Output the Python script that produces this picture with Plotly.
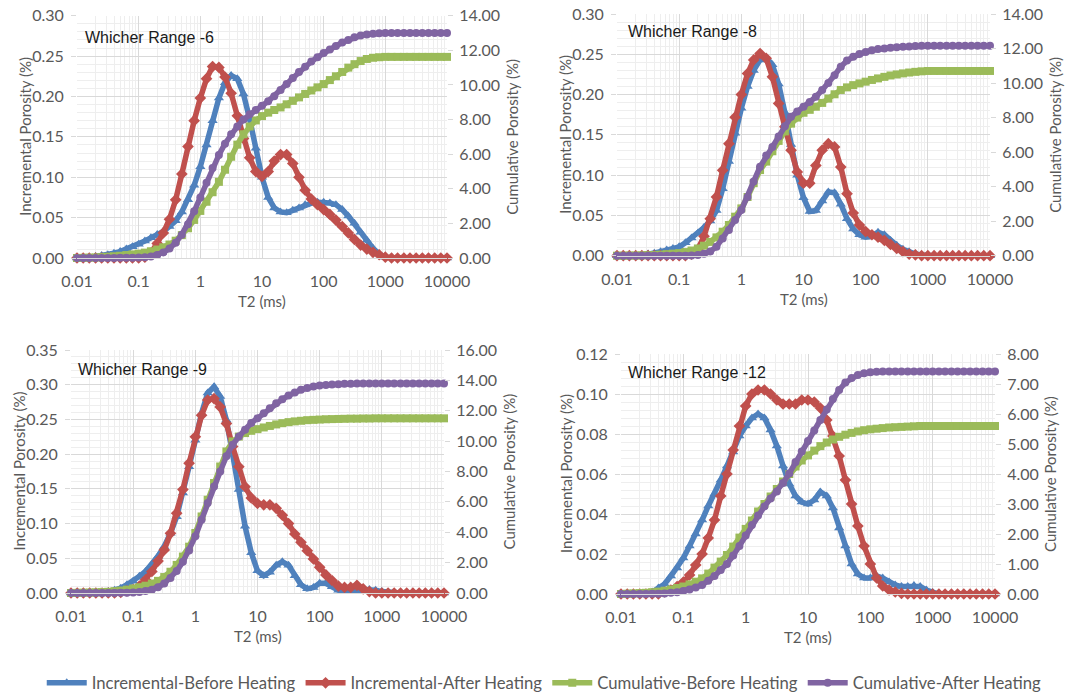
import plotly.graph_objects as go

# T2 relaxation-time bins (ms), ten per decade
T2_MS = [
    0.01, 0.0126, 0.0158, 0.02, 0.0251, 0.0316, 0.0398, 0.0501, 0.0631, 0.0794,
    0.1, 0.126, 0.158, 0.2, 0.251, 0.316, 0.398, 0.501, 0.631, 0.794,
    1, 1.26, 1.58, 2.0, 2.51, 3.16, 3.98, 5.01, 6.31, 7.94,
    10, 12.6, 15.8, 20.0, 25.1, 31.6, 39.8, 50.1, 63.1, 79.4,
    100, 126, 158, 200, 251, 316, 398, 501, 631, 794,
    1000, 1260, 1580, 2000, 2510, 3160, 3980, 5010, 6310, 7940, 10000,
]

# ---- Whicher Range -6 ----
WR6_INC_BEFORE = [
    0, 0, 0.001, 0.002, 0.003, 0.004, 0.006, 0.008, 0.011, 0.014,
    0.017, 0.021, 0.025, 0.029, 0.033, 0.039, 0.046, 0.057, 0.072, 0.090,
    0.113, 0.140, 0.170, 0.198, 0.217, 0.226, 0.222, 0.203, 0.172, 0.136,
    0.100, 0.075, 0.062, 0.057, 0.056, 0.059, 0.062, 0.066, 0.068, 0.069,
    0.069, 0.068, 0.066, 0.060, 0.052, 0.043, 0.032, 0.022, 0.012, 0.005,
    0.001, 0, 0, 0, 0, 0, 0, 0, 0, 0, 0,
]
WR6_INC_AFTER = [
    0, 0, 0, 0, 0, 0, 0, 0, 0, 0,
    0, 0.001, 0.006, 0.018, 0.031, 0.048, 0.072, 0.104, 0.138, 0.170,
    0.198, 0.222, 0.237, 0.236, 0.224, 0.204, 0.176, 0.148, 0.124, 0.107,
    0.101, 0.107, 0.120, 0.128, 0.128, 0.117, 0.100, 0.084, 0.073, 0.066,
    0.060, 0.054, 0.047, 0.039, 0.031, 0.023, 0.016, 0.011, 0.007, 0.004,
    0.001, 0, 0, 0, 0, 0, 0, 0, 0, 0, 0,
]
WR6_CUM_BEFORE = [
    0, 0.01, 0.02, 0.03, 0.05, 0.07, 0.10, 0.13, 0.17, 0.21,
    0.25, 0.31, 0.39, 0.49, 0.62, 0.78, 1.00, 1.32, 1.72, 2.20,
    2.72, 3.25, 3.80, 4.40, 5.10, 5.85, 6.55, 7.15, 7.60, 7.95,
    8.20, 8.40, 8.55, 8.70, 8.88, 9.08, 9.28, 9.48, 9.68, 9.86,
    10.05, 10.28, 10.50, 10.75, 11.00, 11.20, 11.38, 11.50, 11.57, 11.60,
    11.62, 11.62, 11.62, 11.62, 11.62, 11.62, 11.62, 11.62, 11.62, 11.62, 11.62,
]
WR6_CUM_AFTER = [
    0, 0, 0, 0, 0, 0, 0, 0.01, 0.01, 0.02,
    0.03, 0.05, 0.09, 0.17, 0.32, 0.55, 0.88, 1.35, 1.95, 2.70,
    3.50, 4.35, 5.20, 5.95, 6.60, 7.15, 7.60, 8.00, 8.30, 8.55,
    8.80, 9.05, 9.35, 9.70, 10.05, 10.40, 10.75, 11.05, 11.35, 11.60,
    11.85, 12.05, 12.25, 12.45, 12.60, 12.75, 12.85, 12.92, 12.96, 12.98,
    13.00, 13.00, 13.00, 13.00, 13.00, 13.00, 13.00, 13.00, 13.00, 13.00, 13.00,
]

# ---- Whicher Range -8 ----
WR8_INC_BEFORE = [
    0, 0, 0, 0, 0.001, 0.002, 0.003, 0.005, 0.007, 0.009,
    0.011, 0.016, 0.022, 0.028, 0.035, 0.043, 0.056, 0.083, 0.117, 0.152,
    0.183, 0.210, 0.230, 0.243, 0.246, 0.237, 0.213, 0.178, 0.138, 0.100,
    0.072, 0.055, 0.056, 0.068, 0.079, 0.078, 0.064, 0.046, 0.033, 0.026,
    0.023, 0.025, 0.029, 0.026, 0.019, 0.013, 0.008, 0.005, 0.002, 0.001,
    0, 0, 0, 0, 0, 0, 0, 0, 0, 0, 0,
]
WR8_INC_AFTER = [
    0, 0, 0, 0, 0, 0, 0, 0, 0, 0,
    0, 0, 0.002, 0.008, 0.024, 0.046, 0.073, 0.106, 0.139, 0.172,
    0.200, 0.226, 0.243, 0.251, 0.245, 0.222, 0.189, 0.160, 0.131, 0.104,
    0.090, 0.090, 0.112, 0.131, 0.139, 0.135, 0.110, 0.077, 0.053, 0.038,
    0.030, 0.026, 0.023, 0.019, 0.014, 0.009, 0.005, 0.002, 0.001, 0,
    0, 0, 0, 0, 0, 0, 0, 0, 0, 0, 0,
]
WR8_CUM_BEFORE = [
    0, 0, 0.01, 0.01, 0.02, 0.03, 0.04, 0.06, 0.09, 0.12,
    0.15, 0.21, 0.30, 0.42, 0.58, 0.80, 1.06, 1.39, 1.78, 2.26,
    2.74, 3.40, 4.20, 4.96, 5.45, 6.05, 6.65, 7.20, 7.65, 8.00,
    8.28, 8.45, 8.63, 8.85, 9.10, 9.35, 9.60, 9.75, 9.88, 9.98,
    10.08, 10.18, 10.27, 10.36, 10.44, 10.50, 10.56, 10.61, 10.65, 10.68,
    10.70, 10.70, 10.70, 10.70, 10.70, 10.70, 10.70, 10.70, 10.70, 10.70, 10.70,
]
WR8_CUM_AFTER = [
    0, 0, 0, 0, 0, 0, 0, 0, 0, 0,
    0, 0, 0.01, 0.04, 0.11, 0.25, 0.52, 1.00, 1.49, 2.07,
    2.64, 3.40, 4.30, 5.15, 5.80, 6.30, 6.90, 7.50, 8.05, 8.35,
    8.63, 8.90, 9.20, 9.60, 10.00, 10.45, 10.95, 11.30, 11.52, 11.68,
    11.80, 11.90, 11.97, 12.00, 12.05, 12.08, 12.10, 12.12, 12.14, 12.16,
    12.16, 12.16, 12.16, 12.16, 12.16, 12.16, 12.16, 12.16, 12.16, 12.16, 12.16,
]

# ---- Whicher Range -9 ----
WR9_INC_BEFORE = [
    0, 0, 0, 0, 0.001, 0.001, 0.002, 0.004, 0.007, 0.012,
    0.017, 0.024, 0.031, 0.041, 0.053, 0.067, 0.086, 0.110, 0.144, 0.182,
    0.220, 0.259, 0.288, 0.297, 0.283, 0.249, 0.200, 0.149, 0.096, 0.058,
    0.032, 0.025, 0.030, 0.040, 0.045, 0.040, 0.025, 0.012, 0.006, 0.008,
    0.014, 0.014, 0.009, 0.004, 0.002, 0.002, 0.003, 0.005, 0.005, 0.004,
    0.002, 0.001, 0, 0, 0, 0, 0, 0, 0, 0, 0,
]
WR9_INC_AFTER = [
    0, 0, 0, 0, 0, 0, 0, 0, 0.001, 0.003,
    0.005, 0.010, 0.019, 0.031, 0.046, 0.062, 0.086, 0.115, 0.149, 0.187,
    0.225, 0.256, 0.278, 0.280, 0.268, 0.244, 0.211, 0.182, 0.153, 0.137,
    0.129, 0.127, 0.127, 0.122, 0.112, 0.100, 0.085, 0.073, 0.061, 0.049,
    0.037, 0.026, 0.018, 0.010, 0.008, 0.008, 0.011, 0.006, 0.002, 0,
    0, 0, 0, 0, 0, 0, 0, 0, 0, 0, 0,
]
WR9_CUM_BEFORE = [
    0, 0.01, 0.02, 0.03, 0.04, 0.06, 0.08, 0.12, 0.16, 0.22,
    0.30, 0.38, 0.48, 0.62, 0.80, 1.05, 1.40, 1.85, 2.40, 3.05,
    3.95, 5.04, 6.14, 7.24, 8.33, 9.32, 9.98, 10.30, 10.53, 10.68,
    10.79, 10.90, 11.00, 11.10, 11.18, 11.25, 11.30, 11.34, 11.38, 11.40,
    11.42, 11.44, 11.45, 11.46, 11.47, 11.48, 11.48, 11.49, 11.49, 11.50,
    11.50, 11.50, 11.50, 11.50, 11.50, 11.50, 11.50, 11.50, 11.50, 11.50, 11.50,
]
WR9_CUM_AFTER = [
    0, 0, 0, 0, 0, 0, 0, 0, 0.01, 0.02,
    0.04, 0.07, 0.13, 0.22, 0.38, 0.62, 0.98, 1.45, 2.05, 2.80,
    3.73, 4.82, 5.92, 7.02, 8.00, 9.00, 9.76, 10.30, 10.75, 11.20,
    11.50, 11.84, 12.17, 12.50, 12.76, 13.00, 13.20, 13.38, 13.49, 13.60,
    13.66, 13.70, 13.73, 13.75, 13.77, 13.78, 13.79, 13.79, 13.80, 13.80,
    13.80, 13.80, 13.80, 13.80, 13.80, 13.80, 13.80, 13.80, 13.80, 13.80, 13.80,
]

# ---- Whicher Range -12 ----
WR12_INC_BEFORE = [
    0, 0, 0, 0, 0, 0.001, 0.003, 0.005, 0.009, 0.013,
    0.018, 0.024, 0.030, 0.037, 0.044, 0.050, 0.057, 0.064, 0.071, 0.079,
    0.084, 0.088, 0.090, 0.088, 0.082, 0.074, 0.064, 0.055, 0.049, 0.046,
    0.045, 0.047, 0.051, 0.049, 0.043, 0.033, 0.024, 0.015, 0.010, 0.008,
    0.008, 0.009, 0.008, 0.006, 0.0045, 0.0037, 0.0037, 0.0042, 0.0037, 0.002,
    0.0007, 0, 0, 0, 0, 0, 0, 0, 0, 0, 0,
]
WR12_INC_AFTER = [
    0, 0, 0, 0, 0, 0, 0, 0.001, 0.002, 0.0037,
    0.006, 0.0095, 0.0145, 0.020, 0.028, 0.037, 0.049, 0.060, 0.072, 0.084,
    0.094, 0.100, 0.102, 0.102, 0.100, 0.097, 0.095, 0.095, 0.095, 0.097,
    0.097, 0.096, 0.093, 0.087, 0.079, 0.069, 0.057, 0.045, 0.034, 0.024,
    0.015, 0.008, 0.004, 0.002, 0.001, 0.0003, 0, 0, 0, 0,
    0, 0, 0, 0, 0, 0, 0, 0, 0, 0, 0,
]
WR12_CUM_BEFORE = [
    0, 0.01, 0.02, 0.03, 0.04, 0.06, 0.08, 0.11, 0.15, 0.20,
    0.25, 0.32, 0.41, 0.52, 0.68, 0.88, 1.08, 1.30, 1.58, 1.88,
    2.17, 2.45, 2.75, 3.00, 3.25, 3.50, 3.75, 4.00, 4.25, 4.45,
    4.62, 4.78, 4.93, 5.05, 5.15, 5.24, 5.31, 5.37, 5.42, 5.46,
    5.49, 5.51, 5.53, 5.55, 5.56, 5.57, 5.58, 5.59, 5.60, 5.60,
    5.60, 5.60, 5.60, 5.60, 5.60, 5.60, 5.60, 5.60, 5.60, 5.60, 5.60,
]
WR12_CUM_AFTER = [
    0, 0, 0, 0, 0, 0.01, 0.01, 0.02, 0.04, 0.06,
    0.10, 0.15, 0.22, 0.30, 0.44, 0.60, 0.80, 1.00, 1.28, 1.60,
    1.95, 2.30, 2.62, 2.92, 3.18, 3.42, 3.70, 4.02, 4.40, 4.75,
    5.10, 5.45, 5.80, 6.15, 6.50, 6.80, 7.05, 7.20, 7.30, 7.36,
    7.39, 7.41, 7.42, 7.42, 7.42, 7.42, 7.42, 7.42, 7.42, 7.42,
    7.42, 7.42, 7.42, 7.42, 7.42, 7.42, 7.42, 7.42, 7.42, 7.42, 7.42,
]

X_TICKS = [0.01, 0.1, 1, 10, 100, 1000, 10000]
X_LABELS = ["0.01", "0.1", "1", "10", "100", "1000", "10000"]

SERIES = [
    ("Incremental-Before Heating", "#4F81BD", "triangle-up", 9),
    ("Incremental-After Heating", "#C0504D", "diamond", 9),
    ("Cumulative-Before Heating", "#9BBB59", "square", 8),
    ("Cumulative-After Heating", "#8064A2", "circle", 8),
]

W, H = 1082, 695
TEXT = "#595959"
MAJOR = "#d9d9d9"
MINOR = "#eeeeee"
FONT = "Lato, 'Open Sans', sans-serif"

# plot-area boxes in pixels: (x0, x1), (y_top, y_bottom); left range/step/minor; right range/step
PANELS = [
    dict(name="Whicher Range -6", data=(WR6_INC_BEFORE, WR6_INC_AFTER, WR6_CUM_BEFORE, WR6_CUM_AFTER),
         px=(77, 447), py=(15.7, 258), inc=(0.30, 0.05, 0.01), cum=(14, 2),
         ylab=25, clab=512, lab=(83, 37)),
    dict(name="Whicher Range -8", data=(WR8_INC_BEFORE, WR8_INC_AFTER, WR8_CUM_BEFORE, WR8_CUM_AFTER),
         px=(617, 990), py=(14, 255.7), inc=(0.30, 0.05, 0.01), cum=(14, 2),
         ylab=565, clab=1055, lab=(626, 32)),
    dict(name="Whicher Range -9", data=(WR9_INC_BEFORE, WR9_INC_AFTER, WR9_CUM_BEFORE, WR9_CUM_AFTER),
         px=(71, 444), py=(350, 593), inc=(0.35, 0.05, 0.01), cum=(16, 2),
         ylab=18, clab=508, lab=(76, 369)),
    dict(name="Whicher Range -12", data=(WR12_INC_BEFORE, WR12_INC_AFTER, WR12_CUM_BEFORE, WR12_CUM_AFTER),
         px=(621, 995), py=(354, 594), inc=(0.12, 0.02, 0.004), cum=(8, 1),
         ylab=566, clab=1050, lab=(626, 372)),
]

minor_x = [m * 10.0 ** e for e in range(-2, 4) for m in range(2, 10)]

fig = go.Figure()
layout = dict(
    width=W, height=H,
    margin=dict(l=0, r=0, t=0, b=0, autoexpand=False),
    paper_bgcolor="white", plot_bgcolor="white",
    font=dict(family=FONT, size=16, color=TEXT),
    showlegend=True,
    legend=dict(orientation="h", x=0.503, xanchor="center", y=1 - 683 / H, yanchor="middle",
                itemwidth=40, font=dict(size=16.7, color=TEXT), tracegroupgap=0),
    annotations=[],
)

for i, p in enumerate(PANELS, start=1):
    xname = "x" if i == 1 else f"x{i}"
    y1 = "y" if i == 1 else f"y{2 * i - 1}"
    y2 = f"y{2 * i}"
    xkey = "xaxis" if i == 1 else f"xaxis{i}"
    y1key = "yaxis" if i == 1 else f"yaxis{2 * i - 1}"
    y2key = f"yaxis{2 * i}"
    x0, x1 = p["px"]
    yt, yb = p["py"]
    xdom = [x0 / W, x1 / W]
    ydom = [1 - yb / H, 1 - yt / H]
    imax, istep, iminor = p["inc"]
    cmax, cstep = p["cum"]

    layout[xkey] = dict(
        type="log", range=[-2, 4], domain=xdom, anchor=y1, automargin=False,
        tickmode="array", tickvals=X_TICKS, ticktext=X_LABELS,
        showgrid=True, gridcolor=MAJOR, gridwidth=1,
        minor=dict(tickmode="array", tickvals=minor_x, showgrid=True, gridcolor=MINOR, ticks=""),
        showline=True, linecolor=MAJOR, zeroline=False, ticks="",
        ticklabelstandoff=9, tickfont=dict(size=16, color=TEXT),
    )
    layout[y1key] = dict(
        range=[0, imax], domain=ydom, anchor=xname, automargin=False,
        tickmode="linear", tick0=0, dtick=istep, tickformat=".2f",
        showgrid=True, gridcolor=MAJOR, gridwidth=1,
        minor=dict(dtick=iminor, tick0=0, showgrid=True, gridcolor=MINOR, ticks=""),
        zeroline=False, showline=False,
        ticks="outside", ticklen=5, tickcolor=MAJOR, ticklabelstandoff=4,
        tickfont=dict(size=16, color=TEXT),
    )
    layout[y2key] = dict(
        range=[0, cmax], overlaying=y1, anchor=xname, side="right", automargin=False,
        tickmode="linear", tick0=0, dtick=cstep, tickformat=".2f",
        showgrid=False, zeroline=False, showline=False,
        ticks="outside", ticklen=5, tickcolor=MAJOR, ticklabelstandoff=3,
        tickfont=dict(size=16, color=TEXT),
    )

    for k, (label, color, symbol, msize) in enumerate(SERIES):
        fig.add_trace(go.Scatter(
            x=T2_MS, y=p["data"][k], name=label,
            mode="lines+markers",
            line=dict(color=color, width=5.5),
            marker=dict(symbol=symbol, size=msize, color=color),
            xaxis=xname, yaxis=(y1 if k < 2 else y2),
            showlegend=(i == 1), legendgroup=label, cliponaxis=False,
        ))

    ymid = 1 - (yt + yb) / 2 / H
    layout["annotations"] += [
        dict(text="Incremental Porosity (%)", xref="paper", yref="paper",
             x=p["ylab"] / W, y=ymid, textangle=-90, showarrow=False,
             xanchor="center", yanchor="middle", font=dict(size=15, color=TEXT)),
        dict(text="Cumulative Porosity (%)", xref="paper", yref="paper",
             x=p["clab"] / W, y=ymid, textangle=-90, showarrow=False,
             xanchor="center", yanchor="middle", font=dict(size=15, color=TEXT)),
        dict(text="T2 (ms)", xref="paper", yref="paper",
             x=(x0 + x1) / 2 / W, y=1 - (yb + 43) / H, showarrow=False,
             xanchor="center", yanchor="middle", font=dict(size=15, color=TEXT)),
        dict(text=p["name"], xref="paper", yref="paper",
             x=p["lab"][0] / W, y=1 - p["lab"][1] / H, showarrow=False,
             xanchor="left", yanchor="middle",
             font=dict(family="'Liberation Sans', Arial, sans-serif", size=16, color="#1a1a1a")),
    ]

fig.update_layout(**layout)
fig.write_html("out.html")
